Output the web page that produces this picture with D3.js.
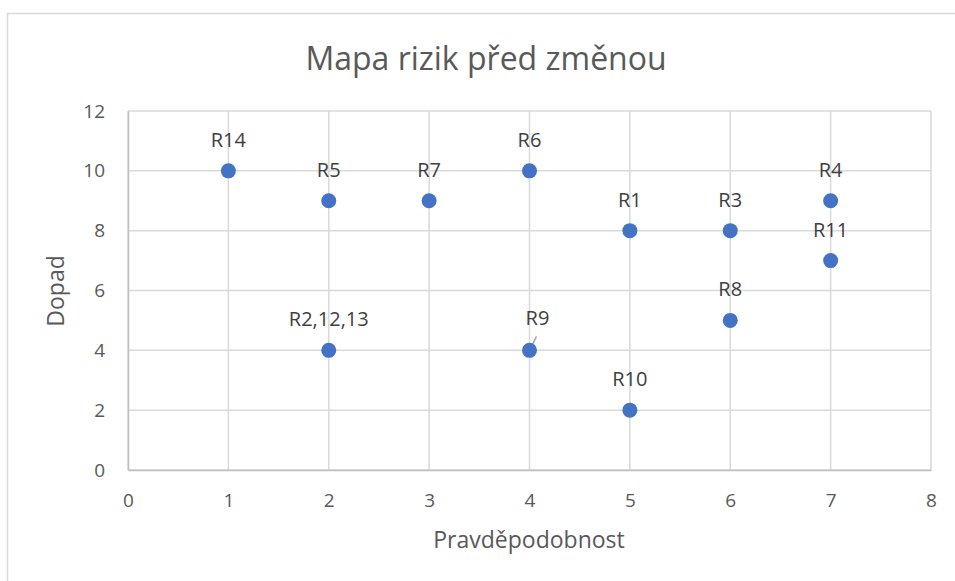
<!DOCTYPE html>
<html>
<head>
<meta charset="utf-8">
<script src="https://cdn.jsdelivr.net/npm/d3@7"></script>
<style>
  html, body { margin: 0; padding: 0; background: #fff; }
  svg { display: block; font-family: "Open Sans", "Noto Sans", sans-serif; }
</style>
</head>
<body>
<svg id="chart" width="955" height="581"></svg>
<script>
// Risk map: probability (x) vs impact (y)
const labels = ["R14", "R5", "R7", "R6", "R1", "R3", "R4", "R11", "R8", "R2,12,13", "R9", "R10"];
const probability = [1, 2, 3, 4, 5, 6, 7, 7, 6, 2, 4, 5];
const impact = [10, 9, 9, 10, 8, 8, 9, 7, 5, 4, 4, 2];
const xTicks = [0, 1, 2, 3, 4, 5, 6, 7, 8];
const yTicks = [0, 2, 4, 6, 8, 10, 12];

const title = "Mapa rizik před změnou";
const xTitle = "Pravděpodobnost";
const yTitle = "Dopad";

const svg = d3.select("#chart");
const textColor = "#595959";
const gridColor = "#d9d9d9";
const pointColor = "#4472C4";

// outer chart frame
svg.append("rect")
  .attr("x", 7.5).attr("y", 13.5)
  .attr("width", 1000).attr("height", 1000)
  .attr("fill", "#fff")
  .attr("stroke", "#d9d9d9").attr("stroke-width", 1.5);

const plot = { left: 128, right: 931, top: 111, bottom: 470 };

const x = d3.scaleLinear().domain([0, 8]).range([plot.left, plot.right]);
const y = d3.scaleLinear().domain([0, 12]).range([plot.bottom, plot.top]);

// gridlines
const grid = svg.append("g");
grid.selectAll("line.v").data(xTicks).join("line")
  .attr("x1", d => x(d)).attr("x2", d => x(d))
  .attr("y1", plot.top).attr("y2", plot.bottom)
  .attr("stroke", gridColor).attr("stroke-width", 1.5);
grid.selectAll("line.h").data(yTicks).join("line")
  .attr("y1", d => y(d)).attr("y2", d => y(d))
  .attr("x1", plot.left).attr("x2", plot.right)
  .attr("stroke", gridColor).attr("stroke-width", 1.5);

// axes (labels only, domain lines drawn grey)
const xAxis = d3.axisBottom(x).tickValues(xTicks).tickSize(0).tickPadding(24);
const gx = svg.append("g").attr("transform", `translate(0,${plot.bottom})`).call(xAxis);
gx.select(".domain").attr("stroke", "#bfbfbf").attr("stroke-width", 1.5);
gx.selectAll("text").attr("fill", textColor).style("font-size", "19px")
  .style("font-family", "'Open Sans', sans-serif");

const yAxis = d3.axisLeft(y).tickValues(yTicks).tickSize(0).tickPadding(23);
const gy = svg.append("g").attr("transform", `translate(${plot.left},0)`).call(yAxis);
gy.select(".domain").attr("stroke", "#bfbfbf").attr("stroke-width", 1.5);
gy.selectAll("text").attr("fill", textColor).style("font-size", "19px")
  .style("font-family", "'Open Sans', sans-serif");

// titles
svg.append("text")
  .attr("x", 486).attr("y", 70)
  .attr("text-anchor", "middle")
  .attr("fill", textColor)
  .style("font-size", "32px")
  .text(title);

svg.append("text")
  .attr("x", 529).attr("y", 548)
  .attr("text-anchor", "middle")
  .attr("fill", textColor)
  .style("font-size", "23px")
  .text(xTitle);

svg.append("text")
  .attr("transform", "translate(64,291) rotate(-90)")
  .attr("text-anchor", "middle")
  .attr("fill", textColor)
  .style("font-size", "23px")
  .text(yTitle);

const points = labels.map((l, i) => ({ label: l, px: probability[i], py: impact[i] }));

// leader line for the moved R9 label
const r9 = points.find(p => p.label === "R9");
svg.append("line")
  .attr("x1", x(r9.px)).attr("y1", y(r9.py))
  .attr("x2", x(r9.px) + 7).attr("y2", y(r9.py) - 14)
  .attr("stroke", "#a6a6a6").attr("stroke-width", 1.5);

// markers
svg.append("g").selectAll("circle").data(points).join("circle")
  .attr("cx", d => x(d.px)).attr("cy", d => y(d.py))
  .attr("r", 7.5)
  .attr("fill", pointColor);

// data labels above markers
svg.append("g").selectAll("text").data(points).join("text")
  .attr("x", d => x(d.px) + (d.label === "R9" ? 8 : 0))
  .attr("y", d => y(d.py) - (d.label === "R9" ? 25 : 24))
  .attr("text-anchor", "middle")
  .attr("fill", "#404040")
  .style("font-size", "20px")
  .text(d => d.label);
</script>
</body>
</html>
